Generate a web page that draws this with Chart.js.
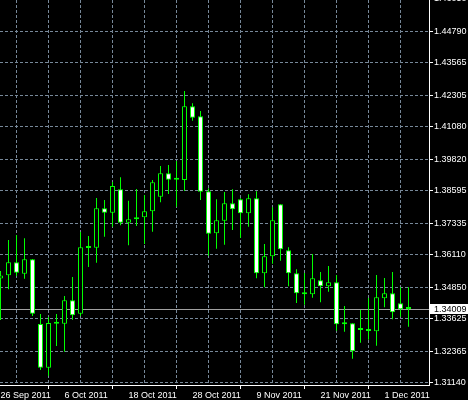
<!DOCTYPE html>
<html>
<head>
<meta charset="utf-8">
<script src="https://cdn.jsdelivr.net/npm/chart.js@4.4.1/dist/chart.umd.min.js"></script>
<style>
  html, body { margin: 0; padding: 0; background: #000; }
</style>
</head>
<body>
<canvas id="priceChart" width="468" height="400"></canvas>
<script>
const dates = ['26 Sep 2011', '27 Sep 2011', '28 Sep 2011', '29 Sep 2011', '30 Sep 2011',
  '3 Oct 2011', '4 Oct 2011', '5 Oct 2011', '6 Oct 2011', '7 Oct 2011',
  '10 Oct 2011', '11 Oct 2011', '12 Oct 2011', '13 Oct 2011', '14 Oct 2011',
  '17 Oct 2011', '18 Oct 2011', '19 Oct 2011', '20 Oct 2011', '21 Oct 2011',
  '24 Oct 2011', '25 Oct 2011', '26 Oct 2011', '27 Oct 2011', '28 Oct 2011',
  '31 Oct 2011', '1 Nov 2011', '2 Nov 2011', '3 Nov 2011', '4 Nov 2011',
  '7 Nov 2011', '8 Nov 2011', '9 Nov 2011', '10 Nov 2011', '11 Nov 2011',
  '14 Nov 2011', '15 Nov 2011', '16 Nov 2011', '17 Nov 2011', '18 Nov 2011',
  '21 Nov 2011', '22 Nov 2011', '23 Nov 2011', '24 Nov 2011', '25 Nov 2011',
  '28 Nov 2011', '29 Nov 2011', '30 Nov 2011', '1 Dec 2011', '2 Dec 2011',
  '5 Dec 2011', '6 Dec 2011'];

const open = [1.35196, 1.35320, 1.35824, 1.35382, 1.35941, 1.33430, 1.31734, 1.33469, 1.33441, 1.34350,
  1.33830, 1.36407, 1.36391, 1.37920, 1.37749, 1.38658, 1.37361, 1.37493, 1.37571, 1.37804,
  1.38371, 1.39279, 1.39057, 1.39019, 1.41879, 1.41491, 1.38580, 1.36950, 1.37439, 1.38114,
  1.38270, 1.37726, 1.38308, 1.35398, 1.36057, 1.38076, 1.36290, 1.35398, 1.34614, 1.34583,
  1.35126, 1.34893, 1.35048, 1.33441, 1.33457, 1.33224, 1.33185, 1.33147, 1.34427, 1.34621,
  1.34233, 1.34020];
const high = [1.35487, 1.36690, 1.36884, 1.36756, 1.35953, 1.33818, 1.33702, 1.33818, 1.34517, 1.35254,
  1.37000, 1.36845, 1.38320, 1.38242, 1.38941, 1.39123, 1.38215, 1.38669, 1.38436, 1.39019,
  1.39562, 1.39601, 1.39756, 1.42473, 1.41995, 1.41697, 1.38696, 1.38270, 1.38553, 1.38658,
  1.38308, 1.38464, 1.38580, 1.36535, 1.37959, 1.38076, 1.36407, 1.35553, 1.35409, 1.36147,
  1.35448, 1.35681, 1.35332, 1.34128, 1.33457, 1.33973, 1.34439, 1.35332, 1.35215, 1.35448,
  1.34854, 1.34854];
const low = [1.33585, 1.34777, 1.35293, 1.35188, 1.33740, 1.31645, 1.31423, 1.32576, 1.32355, 1.33597,
  1.33740, 1.35642, 1.35809, 1.36818, 1.37206, 1.37261, 1.36484, 1.37233, 1.36535, 1.37012,
  1.38153, 1.38475, 1.37982, 1.38592, 1.41320, 1.38242, 1.36081, 1.36352, 1.36508, 1.37078,
  1.36768, 1.37206, 1.35204, 1.34854, 1.35770, 1.35887, 1.34893, 1.34245, 1.34179, 1.34451,
  1.34272, 1.34683, 1.33170, 1.33131, 1.32083, 1.32704, 1.32821, 1.32588, 1.34078, 1.33612,
  1.33713, 1.33325];
const close = [1.35312, 1.35824, 1.35421, 1.35941, 1.33830, 1.31734, 1.33469, 1.33441, 1.34350, 1.33768,
  1.36407, 1.36379, 1.37920, 1.37749, 1.38786, 1.37361, 1.37493, 1.37571, 1.37804, 1.38929,
  1.39279, 1.39030, 1.39030, 1.41879, 1.41437, 1.38565, 1.36934, 1.37455, 1.38114, 1.37881,
  1.37726, 1.38308, 1.35398, 1.36057, 1.37455, 1.36329, 1.35398, 1.34621, 1.34583, 1.35204,
  1.34893, 1.35048, 1.33418, 1.33418, 1.32370, 1.33197, 1.33158, 1.34466, 1.34621, 1.33884,
  1.34000, 1.34009];

const priceTicks = [1.31140, 1.32365, 1.33625, 1.34850, 1.36110, 1.37335, 1.38595,
  1.39820, 1.41080, 1.42305, 1.43565, 1.44790, 1.46050];
const lastPrice = 1.34009;
const gridStep = 4;   // bars between vertical grid lines
const labelStep = 8;  // bars between date labels

const FONT = "'Liberation Sans', Arial, sans-serif";
const FONT_SIZE = 9;
const GREEN = '#00ff00';
const GRID = '#778899';

Chart.defaults.font.family = FONT;
Chart.defaults.font.size = FONT_SIZE;
Chart.defaults.color = '#ffffff';

const bodies = dates.map((d, i) => ({ x: i, y: [open[i], close[i]] }));
const wicks = dates.map((d, i) => ({ x: i, y: [low[i], high[i]] }));

// current price line (behind candles) and its white tag on the price axis
const bidLine = {
  id: 'bidLine',
  beforeDatasetsDraw(chart) {
    const { ctx, chartArea } = chart;
    const y = Math.round(chart.scales.y.getPixelForValue(lastPrice)) + 0.5;
    ctx.save();
    ctx.strokeStyle = '#a0a0a0';
    ctx.lineWidth = 1;
    ctx.beginPath();
    ctx.moveTo(chartArea.left, y);
    ctx.lineTo(chartArea.right, y);
    ctx.stroke();
    ctx.restore();
  },
  afterDraw(chart) {
    const { ctx, chartArea } = chart;
    const y = Math.round(chart.scales.y.getPixelForValue(lastPrice));
    ctx.save();
    ctx.fillStyle = '#ffffff';
    ctx.fillRect(chartArea.right + 1, y - 5, chart.width - chartArea.right - 1, 10);
    ctx.fillStyle = '#000000';
    ctx.font = FONT_SIZE + 'px ' + FONT;
    ctx.textBaseline = 'middle';
    ctx.fillText(lastPrice.toFixed(5), chartArea.right + 5, y + 0.5);
    ctx.restore();
  }
};

new Chart(document.getElementById('priceChart'), {
  type: 'bar',
  data: {
    datasets: [{
      label: 'Body',
      data: bodies,
      order: 0,
      barThickness: 5,
      borderWidth: 1,
      borderSkipped: false,
      borderColor: GREEN,
      backgroundColor: dates.map((d, i) => close[i] >= open[i] ? '#000000' : '#ffffff'),
      minBarLength: 2,
      inflateAmount: 0,
      grouped: false
    }, {
      label: 'Wick',
      data: wicks,
      order: 1,
      barThickness: 1,
      borderWidth: 0,
      backgroundColor: GREEN,
      inflateAmount: 0,
      grouped: false
    }]
  },
  options: {
    responsive: false,
    animation: false,
    events: [],
    layout: { padding: 0 },
    plugins: { legend: { display: false }, tooltip: { enabled: false } },
    scales: {
      x: {
        type: 'linear',
        offset: false,
        min: -0.0625,
        max: 53.5625,
        afterBuildTicks: s => {
          const t = [];
          for (let v = 0; v < dates.length + gridStep; v += gridStep) t.push({ value: v });
          s.ticks = t;
        },
        afterFit: s => {
          s.height = 15;
          s.paddingLeft = 0;
          s.paddingRight = 0;
        },
        grid: {
          color: GRID,
          tickLength: 4,
          tickColor: c => (c.tick && c.tick.value % labelStep === 0) ? '#ffffff' : 'rgba(0,0,0,0)'
        },
        border: { color: '#ffffff', dash: [3, 2] },
        ticks: {
          autoSkip: false,
          maxRotation: 0,
          align: 'start',
          padding: 1,
          color: '#ffffff',
          callback: v => (v % labelStep === 0 && dates[v]) ? dates[v] : ''
        }
      },
      y: {
        position: 'right',
        min: 1.31062,
        max: 1.46004,
        afterBuildTicks: s => { s.ticks = priceTicks.map(v => ({ value: v })); },
        afterFit: s => {
          s.width = 39;
          s.paddingTop = 0;
          s.paddingBottom = 0;
        },
        grid: { color: GRID, tickLength: 4, tickColor: '#ffffff' },
        border: { color: '#ffffff', dash: [3, 2] },
        ticks: {
          padding: 1,
          color: '#ffffff',
          callback: v => Number(v).toFixed(5)
        }
      }
    }
  },
  plugins: [bidLine]
});
</script>
</body>
</html>
